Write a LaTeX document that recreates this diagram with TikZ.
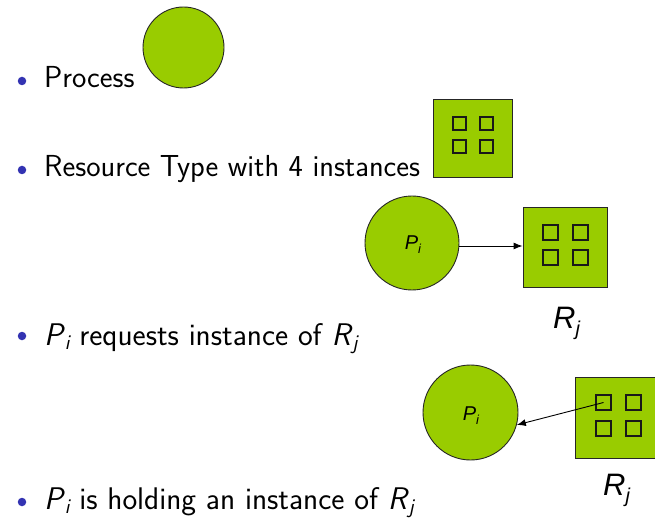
\documentclass[tikz,border=0pt]{standalone}
\usepackage{fontspec}
\usetikzlibrary{arrows.meta}
\newfontfamily\arial{Liberation Sans}
\definecolor{bul}{rgb}{0.2,0.2,0.7}
\definecolor{grn}{HTML}{99CC00}
\tikzset{
  bulletdot/.style={circle,fill=bul,inner sep=0pt,minimum size=8.5pt},
  itemtext/.style={anchor=base west,inner sep=0pt,font=\sffamily\fontsize{31.3}{36}\selectfont},
  itemtextb/.style={itemtext,font=\sffamily\fontsize{30.4}{36}\selectfont},
  proc/.style={circle,fill=grn,draw=black!85,line width=0.9pt,inner sep=0pt},
  res/.style={rectangle,fill=grn,draw=black!85,line width=0.9pt,inner sep=0pt},
  inst/.style={rectangle,draw=black!90,line width=1.1pt,inner sep=0pt},
  conn/.style={-{Latex[length=9pt,width=7pt]},line width=0.9pt,black},
  plabel/.style={inner sep=0pt,font=\arial\itshape\fontsize{20}{22}\selectfont},
  rlabel/.style={anchor=base west,inner sep=0pt,font=\arial\itshape\fontsize{31}{34}\selectfont}
}
\newcommand\SP[1]{\textit{#1}}
\newcommand\SSub[1]{\kern-0.5pt\raisebox{-4.5pt}{\fontsize{21}{22}\selectfont\itshape #1}}
\begin{document}
\begin{tikzpicture}[x=1pt,y=-1pt]
\useasboundingbox (0,0) rectangle (655,518);
\clip (0,0) rectangle (655,518);
% item 1
\node[bulletdot] (b1) at (22,81) {};
\node[itemtextb] (t1) at (44,88) {Process};
\node[proc,minimum size=81pt] (c1) at (183.5,47.5) {};
% item 2
\node[bulletdot] (b2) at (22,170) {};
\node[itemtextb] (t2) at (44,177) {Resource Type with 4 instances};
\node[res,minimum width=79pt,minimum height=78pt] (r1) at (472.5,138) {};
\foreach \n/\x/\y in {a/459.5/123.5,b/486.5/123.5,c/459.5/146.5,d/486.5/146.5}
  \node[inst,minimum size=13pt] (r1\n) at (\x,\y) {};
% example 1
\node[proc,minimum size=94pt] (c2) at (412,243) {};
\node[plabel] (p2) at (413,245) {\textit{P}\raisebox{-4pt}{\fontsize{13}{14}\selectfont\itshape i}};
\node[res,minimum width=84pt,minimum height=80pt] (r2) at (565,247) {};
\foreach \n/\x/\y in {a/550.5/232.5,b/580.5/232.5,c/550.5/257.5,d/580.5/257.5}
  \node[inst,minimum size=15pt] (r2\n) at (\x,\y) {};
\draw[conn] (c2.east |- 0,246) -- (r2.west |- 0,246);
\node[rlabel] (l2) at (553,328) {R\raisebox{-7pt}{\fontsize{20}{22}\selectfont\itshape j}};
% item 3
\node[bulletdot] (b3) at (22,336) {};
\node[itemtext] (t3) at (44,345) {\SP{P}\SSub{i} requests instance of \SP{R}\SSub{j}};
% example 2
\node[proc,minimum size=95pt] (c3) at (470.5,412.5) {};
\node[plabel] (p3) at (471,416) {\textit{P}\raisebox{-4pt}{\fontsize{13}{14}\selectfont\itshape i}};
\node[res,minimum width=84pt,minimum height=81pt] (r3) at (617,417.5) {};
\foreach \n/\x/\y in {a/603.5/402.5,b/633.5/402.5,c/603.5/428.5,d/633.5/428.5}
  \node[inst,minimum size=15pt] (r3\n) at (\x,\y) {};
\draw[conn] (r3a.center) -- (c3.-15);
\node[rlabel] (l3) at (603,495) {R\raisebox{-7pt}{\fontsize{20}{22}\selectfont\itshape j}};
% item 4
\node[bulletdot] (b4) at (22,502) {};
\node[itemtext] (t4) at (44,509) {\SP{P}\SSub{i} is holding an instance of \SP{R}\SSub{j}};
\end{tikzpicture}
\end{document}
